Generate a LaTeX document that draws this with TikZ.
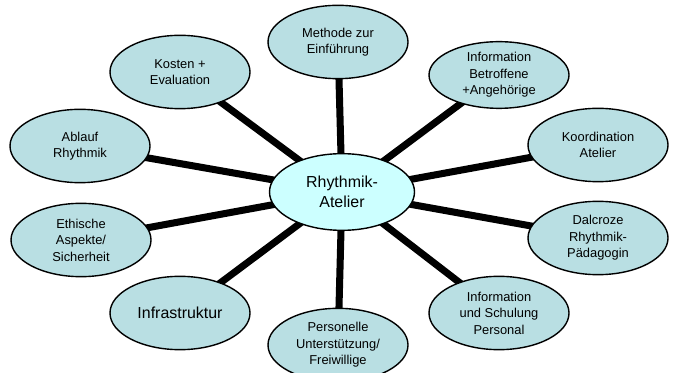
\documentclass[tikz,border=0pt]{standalone}
\usepackage{fontspec}
\setmainfont{Liberation Sans}
\usetikzlibrary{shapes.geometric,backgrounds}
\definecolor{topicfill}{RGB}{185,223,227}
\definecolor{hubfill}{RGB}{204,255,255}
\tikzset{topic/.style={ellipse, draw=black, line width=1.2pt, fill=topicfill,
    inner sep=0pt, minimum width=4.2cm, minimum height=2.2cm, align=center,
    font=\fontsize{11}{14}\selectfont}}
\tikzset{hub/.style={topic, fill=hubfill, minimum width=4.35cm, minimum height=2.3cm,
    font=\fontsize{13.6}{17}\selectfont}}
\tikzset{link/.style={line width=6pt}}

\begin{document}
\begin{tikzpicture}[x=0.03cm,y=-0.03cm]
\useasboundingbox (0,0) rectangle (673,373);

\node[hub] (rhy) at (342,192) {Rhythmik-\\Atelier};

\node[topic] (meth) at (338,42) {Methode zur\\Einführung};
\node[topic, minimum height=2.0cm] (betr) at (499,75) {Information\\Betroffene\\+Angehörige};
\node[topic] (koord) at (598,145) {Koordination\\Atelier};
\node[topic] (dal) at (598,238) {Dalcroze\\Rhythmik-\\Pädagogin};
\node[topic] (schul) at (499,313) {Information\\und Schulung\\Personal};
\node[topic] (pers) at (338,345) {Personelle\\Unterstützung/\\Freiwillige};
\node[topic, font=\fontsize{13.6}{17}\selectfont] (infra) at (180,313) {Infrastruktur};
\node[topic] (eth) at (81,240) {Ethische\\Aspekte/\\Sicherheit};
\node[topic] (abl) at (80,146) {Ablauf\\Rhythmik};
\node[topic] (kost) at (180,72) {Kosten +\\Evaluation};

\begin{pgfonlayer}{background}
\foreach \n in {meth,betr,koord,dal,schul,pers,infra,eth,abl,kost}
  \draw[link] (rhy.center) -- (\n.center);
\end{pgfonlayer}

\end{tikzpicture}
\end{document}
